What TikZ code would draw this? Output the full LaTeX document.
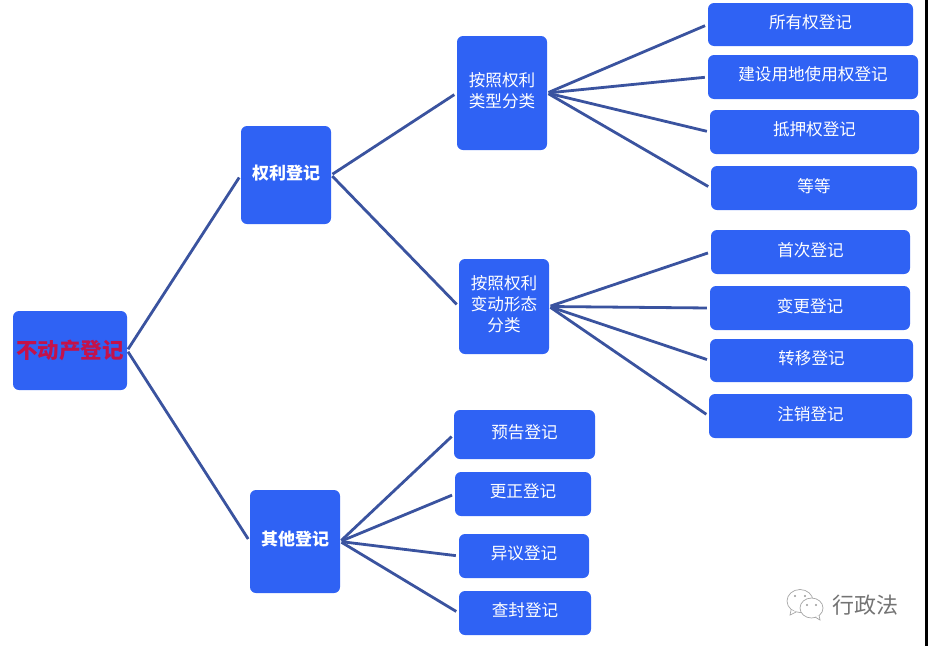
\documentclass[tikz,border=0pt]{standalone}
\usepackage{xcolor}
\usepackage{fontspec}
\newfontfamily\cjk{Noto Sans CJK SC}
\definecolor{boxblue}{HTML}{2F62F4}
\definecolor{linkblue}{HTML}{3A539F}
\definecolor{rootred}{HTML}{C4124A}
\tikzstyle{bag} = [draw=none, fill=boxblue, rounded corners=6pt, align=center, text=white, inner sep=0pt, text depth=6pt, font=\cjk\fontsize{16.6}{21}\selectfont]
\tikzstyle{head} = [bag, font=\cjk\bfseries\fontsize{17}{21}\selectfont]
\tikzstyle{link} = [draw=linkblue, line width=2.8pt, shorten <=1.5pt, shorten >=3pt]
\tikzstyle{bubble} = [draw=black!35, line width=0.7pt, fill=white]
\newcommand{\boxat}[6][bag]{\node[#1, minimum width=#4-#3, minimum height=#6-#5] (#2) at ({(#3+#4)/2},{(#5+#6)/2}) }

\begin{document}
\begin{tikzpicture}[x=1pt, y=-1pt]
\useasboundingbox (0,0) rectangle (928,646);
\fill[black] (925,0) rectangle (928,646);
% first levels
\boxat[head, text=rootred, text depth={}, font=\cjk\bfseries\fontsize{21.5}{24}\selectfont]{root}{13}{127}{311}{390} {不动产登记};
\boxat[head]{right}{241}{331}{126}{224} {权利登记};
\boxat[head]{other}{250}{340}{490}{593} {其他登记};
\boxat{bytype}{457}{547}{36}{150} {按照权利\\类型分类};
\boxat{bychange}{459}{549}{259}{354} {按照权利\\变动形态\\分类};
% leaves
\boxat{own}{708}{913}{3}{46} {所有权登记};
\boxat{land}{708}{918}{55}{99} {建设用地使用权登记};
\boxat{pledge}{710}{919}{110}{154} {抵押权登记};
\boxat{etc}{711}{917}{166}{210} {等等};
\boxat{first}{711}{910}{230}{274} {首次登记};
\boxat{alter}{710}{910}{286}{330} {变更登记};
\boxat{transfer}{710}{913}{339}{382} {转移登记};
\boxat{cancel}{709}{912}{394}{438} {注销登记};
\boxat{notice}{454}{595}{410}{459} {预告登记};
\boxat{correct}{455}{591}{472}{516} {更正登记};
\boxat{dissent}{459}{589}{534}{578} {异议登记};
\boxat{seal}{459}{591}{591}{635} {查封登记};
% connectors
\foreach \from/\to in {root/right, root/other, right/bytype, right/bychange,
    bytype/own, bytype/land, bytype/pledge, bytype/etc,
    bychange/first, bychange/alter, bychange/transfer, bychange/cancel,
    other/notice, other/correct, other/dissent, other/seal}
    \draw[link] (\from.east) -- (\to.west);
% watermark
\node[text=black!55, font=\cjk\fontsize{22}{24}\selectfont, inner sep=0pt] (mark) at (865,605) {行政法};
\draw[bubble] (800,601) ellipse (13 and 11.5);
\draw[bubble] (791,610) -- (790,615) -- (796,612);
\draw[bubble] (811.5,608) ellipse (11.5 and 10);
\draw[bubble] (815,617) -- (820,620) -- (819,615);
\foreach \ex/\ey in {795/596, 805/596, 807/605, 816/605}
    \fill[black!40] (\ex,\ey) circle (1.1);
\end{tikzpicture}
\end{document}
